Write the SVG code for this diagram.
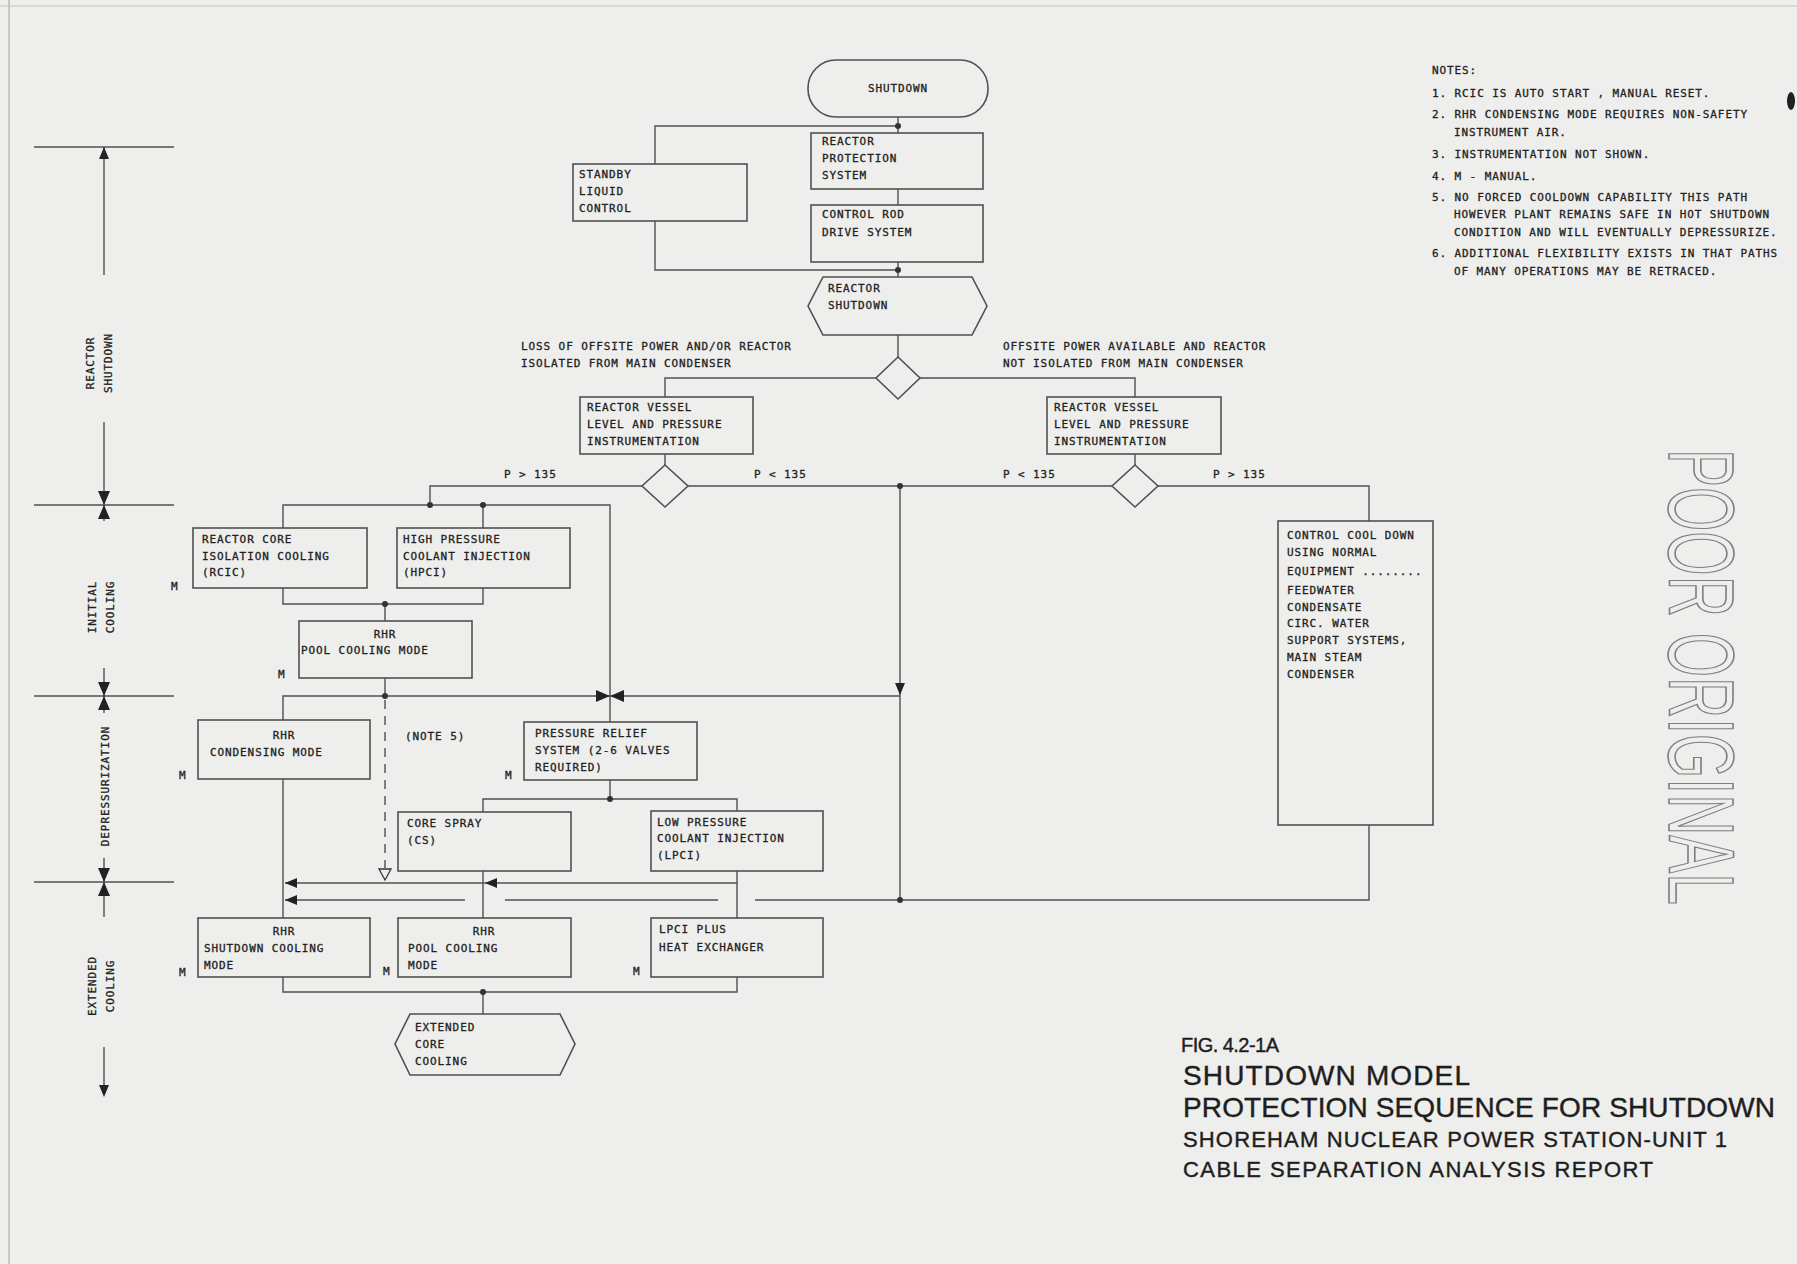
<svg xmlns="http://www.w3.org/2000/svg" width="1797" height="1264" viewBox="0 0 1797 1264">
<style>
.box{fill:none;stroke:#505050;stroke-width:1.6}
.ln{fill:none;stroke:#505050;stroke-width:1.4}
.dash{fill:none;stroke:#505050;stroke-width:1.4;stroke-dasharray:9 7}
.t{font-family:"DejaVu Sans Mono",monospace;font-size:11px;letter-spacing:0.9px;fill:#222;stroke:#222;stroke-width:0.3}
.tm{font-family:"DejaVu Sans Mono",monospace;font-size:11px;letter-spacing:0.9px;fill:#222;stroke:#222;stroke-width:0.3;text-anchor:middle}
.ti{font-family:"Liberation Sans",Arial,sans-serif;fill:#1e1e1e;stroke:#1e1e1e;stroke-width:0.4}
.dot{fill:#333}
.ah{fill:#222}
</style>
<defs>
<path id="ahL" d="M0,0 L12,-5 L12,5 Z"/>
<path id="ahD" d="M0,0 L-5,-12 L5,-12 Z"/>
<path id="ahU" d="M0,0 L-5,12 L5,12 Z"/>
<path id="bowH" d="M-14,-6 L0,0 L-14,6 Z M14,-6 L0,0 L14,6 Z"/>
<path id="bowV" d="M-6,-14 L0,0 L6,-14 Z M-6,14 L0,0 L6,14 Z"/>
</defs>
<rect x="0" y="0" width="1797" height="1264" fill="#eeeeec"/>
<line x1="9" y1="0" x2="9" y2="1264" stroke="#bbb" stroke-width="1.5"/>
<line x1="0" y1="6" x2="1797" y2="6" stroke="#c4c4c4" stroke-width="1.2"/>
<ellipse cx="1791" cy="101" rx="4" ry="9" fill="#222"/>

<!-- section axis -->
<g id="axis">
<g class="ln">
<line x1="34" y1="147" x2="174" y2="147"/>
<line x1="34" y1="505" x2="174" y2="505"/>
<line x1="34" y1="696" x2="174" y2="696"/>
<line x1="34" y1="882" x2="174" y2="882"/>
<line x1="104" y1="147" x2="104" y2="275"/>
<line x1="104" y1="422" x2="104" y2="521"/>
<line x1="104" y1="668" x2="104" y2="713"/>
<line x1="104" y1="858" x2="104" y2="917"/>
<line x1="104" y1="1047" x2="104" y2="1095"/>
</g>
<use href="#ahU" x="104" y="147" class="ah"/>
<use href="#bowV" x="104" y="505" class="ah"/>
<use href="#bowV" x="104" y="696" class="ah"/>
<use href="#bowV" x="104" y="882" class="ah"/>
<use href="#ahD" x="104" y="1097" class="ah"/>
<text class="tm" transform="translate(94,363) rotate(-90)">REACTOR</text>
<text class="tm" transform="translate(112,363) rotate(-90)">SHUTDOWN</text>
<text class="tm" transform="translate(96,607) rotate(-90)">INITIAL</text>
<text class="tm" transform="translate(114,607) rotate(-90)">COOLING</text>
<text class="tm" transform="translate(109,786) rotate(-90)">DEPRESSURIZATION</text>
<text class="tm" transform="translate(96,986) rotate(-90)">EXTENDED</text>
<text class="tm" transform="translate(114,986) rotate(-90)">COOLING</text>
</g>

<!-- connectors -->
<g id="connectors">
<path class="ln" d="M898,117 V133 M898,189 V205 M898,262 V277 M898,335 V357"/>
<path class="ln" d="M655,164 V126 H898 M655,221 V270 H898"/>
<path class="ln" d="M876,378 H665 V397 M920,378 H1135 V397"/>
<path class="ln" d="M665,454 V465 M1135,454 V465"/>
<path class="ln" d="M642,486 H430 V505 M688,486 H1112 M1158,486 H1369 V521"/>
<path class="ln" d="M900,486 V900"/>
<path class="ln" d="M283,528 V505 H610 V722 M483,505 V528"/>
<path class="ln" d="M283,588 V604 H483 V588 M385,604 V621"/>
<path class="ln" d="M385,678 V696"/>
<path class="ln" d="M283,720 V696 H900"/>
<path class="ln" d="M283,779 V918"/>
<path class="ln" d="M610,780 V799 M483,812 V799 H737 V811"/>
<path class="ln" d="M737,871 V918 M483,871 V918"/>
<path class="ln" d="M737,883 H285"/>
<path class="ln" d="M1369,825 V900 H755 M718,900 H505 M465,900 H285"/>
<path class="ln" d="M283,977 V992 H737 V977 M483,992 V1014"/>
<path class="dash" d="M385,700 V868"/>
<polygon points="379,869 391,869 385,880" fill="none" stroke="#333" stroke-width="1.3"/>
<use href="#ahL" x="285" y="883" class="ah"/>
<use href="#ahL" x="485" y="883" class="ah"/>
<use href="#ahL" x="285" y="900" class="ah"/>
<use href="#ahD" x="900" y="695" class="ah"/>
<use href="#bowH" x="610" y="696" class="ah"/>
<circle class="dot" cx="898" cy="126" r="3"/>
<circle class="dot" cx="898" cy="270" r="3"/>
<circle class="dot" cx="430" cy="505" r="3"/>
<circle class="dot" cx="483" cy="505" r="3"/>
<circle class="dot" cx="385" cy="604" r="3"/>
<circle class="dot" cx="385" cy="696" r="3"/>
<circle class="dot" cx="900" cy="486" r="3"/>
<circle class="dot" cx="610" cy="799" r="3"/>
<circle class="dot" cx="900" cy="900" r="3"/>
<circle class="dot" cx="483" cy="992" r="3"/>
<text class="t" x="521" y="350">LOSS OF OFFSITE POWER AND/OR REACTOR</text>
<text class="t" x="521" y="367">ISOLATED FROM MAIN CONDENSER</text>
<text class="t" x="1003" y="350">OFFSITE POWER AVAILABLE AND REACTOR</text>
<text class="t" x="1003" y="367">NOT ISOLATED FROM MAIN CONDENSER</text>
<text class="t" x="504" y="478">P &gt; 135</text>
<text class="t" x="754" y="478">P &lt; 135</text>
<text class="t" x="1003" y="478">P &lt; 135</text>
<text class="t" x="1213" y="478">P &gt; 135</text>
<text class="t" x="405" y="740">(NOTE 5)</text>
</g>

<!-- nodes -->
<g id="n-shutdown">
<rect class="box" x="808" y="60" width="180" height="57" rx="28"/>
<text class="tm" x="898" y="92" letter-spacing="1.8">SHUTDOWN</text>
</g>
<g id="n-rps">
<rect class="box" x="811" y="133" width="172" height="56"/>
<text class="t" x="822" y="145">REACTOR</text>
<text class="t" x="822" y="162">PROTECTION</text>
<text class="t" x="822" y="179">SYSTEM</text>
</g>
<g id="n-slc">
<rect class="box" x="573" y="164" width="174" height="57"/>
<text class="t" x="579" y="178">STANDBY</text>
<text class="t" x="579" y="195">LIQUID</text>
<text class="t" x="579" y="212">CONTROL</text>
</g>
<g id="n-crd">
<rect class="box" x="811" y="205" width="172" height="57"/>
<text class="t" x="822" y="218">CONTROL ROD</text>
<text class="t" x="822" y="236">DRIVE SYSTEM</text>
</g>
<g id="n-reactor-shutdown">
<polygon class="box" points="823,277 972,277 987,306 972,335 823,335 808,306"/>
<text class="t" x="828" y="292">REACTOR</text>
<text class="t" x="828" y="309">SHUTDOWN</text>
</g>
<g id="d-offsite">
<polygon class="box" points="898,357 920,378 898,399 876,378"/>
</g>
<g id="n-rv-left">
<rect class="box" x="580" y="397" width="173" height="57"/>
<text class="t" x="587" y="411">REACTOR VESSEL</text>
<text class="t" x="587" y="428">LEVEL AND PRESSURE</text>
<text class="t" x="587" y="445">INSTRUMENTATION</text>
</g>
<g id="n-rv-right">
<rect class="box" x="1047" y="397" width="174" height="57"/>
<text class="t" x="1054" y="411">REACTOR VESSEL</text>
<text class="t" x="1054" y="428">LEVEL AND PRESSURE</text>
<text class="t" x="1054" y="445">INSTRUMENTATION</text>
</g>
<g id="d-p-left">
<polygon class="box" points="665,465 688,486 665,507 642,486"/>
</g>
<g id="d-p-right">
<polygon class="box" points="1135,465 1158,486 1135,507 1112,486"/>
</g>
<g id="n-rcic">
<rect class="box" x="193" y="528" width="174" height="60"/>
<text class="t" x="202" y="543">REACTOR CORE</text>
<text class="t" x="202" y="560">ISOLATION COOLING</text>
<text class="t" x="202" y="576">(RCIC)</text>
<text class="t" x="171" y="590">M</text>
</g>
<g id="n-hpci">
<rect class="box" x="397" y="528" width="173" height="60"/>
<text class="t" x="403" y="543">HIGH PRESSURE</text>
<text class="t" x="403" y="560">COOLANT INJECTION</text>
<text class="t" x="403" y="576">(HPCI)</text>
</g>
<g id="n-rhr-pool1">
<rect class="box" x="299" y="621" width="173" height="57"/>
<text class="tm" x="385" y="638">RHR</text>
<text class="t" x="301" y="654">POOL COOLING MODE</text>
<text class="t" x="278" y="678">M</text>
</g>
<g id="n-rhr-cond">
<rect class="box" x="198" y="720" width="172" height="59"/>
<text class="tm" x="284" y="739">RHR</text>
<text class="t" x="210" y="756">CONDENSING MODE</text>
<text class="t" x="179" y="779">M</text>
</g>
<g id="n-prs">
<rect class="box" x="524" y="722" width="173" height="58"/>
<text class="t" x="535" y="737">PRESSURE RELIEF</text>
<text class="t" x="535" y="754">SYSTEM (2-6 VALVES</text>
<text class="t" x="535" y="771">REQUIRED)</text>
<text class="t" x="505" y="779">M</text>
</g>
<g id="n-cs">
<rect class="box" x="398" y="812" width="173" height="59"/>
<text class="t" x="407" y="827">CORE SPRAY</text>
<text class="t" x="407" y="844">(CS)</text>
</g>
<g id="n-lpci">
<rect class="box" x="651" y="811" width="172" height="60"/>
<text class="t" x="657" y="826">LOW PRESSURE</text>
<text class="t" x="657" y="842">COOLANT INJECTION</text>
<text class="t" x="657" y="859">(LPCI)</text>
</g>
<g id="n-rhr-sdc">
<rect class="box" x="198" y="918" width="172" height="59"/>
<text class="tm" x="284" y="935">RHR</text>
<text class="t" x="204" y="952">SHUTDOWN COOLING</text>
<text class="t" x="204" y="969">MODE</text>
<text class="t" x="179" y="976">M</text>
</g>
<g id="n-rhr-pool2">
<rect class="box" x="398" y="918" width="173" height="59"/>
<text class="tm" x="484" y="935">RHR</text>
<text class="t" x="408" y="952">POOL COOLING</text>
<text class="t" x="408" y="969">MODE</text>
<text class="t" x="383" y="975">M</text>
</g>
<g id="n-lpci-hx">
<rect class="box" x="651" y="918" width="172" height="59"/>
<text class="t" x="659" y="933">LPCI PLUS</text>
<text class="t" x="659" y="951">HEAT EXCHANGER</text>
<text class="t" x="633" y="975">M</text>
</g>
<g id="n-ext-core">
<polygon class="box" points="410,1014 560,1014 575,1044 560,1075 410,1075 395,1044"/>
<text class="t" x="415" y="1031">EXTENDED</text>
<text class="t" x="415" y="1048">CORE</text>
<text class="t" x="415" y="1065">COOLING</text>
</g>
<g id="n-ccd">
<rect class="box" x="1278" y="521" width="155" height="304"/>
<text class="t" x="1287" y="539">CONTROL COOL DOWN</text>
<text class="t" x="1287" y="556">USING NORMAL</text>
<text class="t" x="1287" y="575">EQUIPMENT ........</text>
<text class="t" x="1287" y="594">FEEDWATER</text>
<text class="t" x="1287" y="611">CONDENSATE</text>
<text class="t" x="1287" y="627">CIRC. WATER</text>
<text class="t" x="1287" y="644">SUPPORT SYSTEMS,</text>
<text class="t" x="1287" y="661">MAIN STEAM</text>
<text class="t" x="1287" y="678">CONDENSER</text>
</g>

<!-- notes -->
<g id="notes">
<text class="t" x="1432" y="74">NOTES:</text>
<text class="t" x="1432" y="97">1. RCIC IS AUTO START , MANUAL RESET.</text>
<text class="t" x="1432" y="118">2. RHR CONDENSING MODE REQUIRES NON-SAFETY</text>
<text class="t" x="1454" y="136">INSTRUMENT AIR.</text>
<text class="t" x="1432" y="158">3. INSTRUMENTATION NOT SHOWN.</text>
<text class="t" x="1432" y="180">4. M - MANUAL.</text>
<text class="t" x="1432" y="201">5. NO FORCED COOLDOWN CAPABILITY THIS PATH</text>
<text class="t" x="1454" y="218">HOWEVER PLANT REMAINS SAFE IN HOT SHUTDOWN</text>
<text class="t" x="1454" y="236">CONDITION AND WILL EVENTUALLY DEPRESSURIZE.</text>
<text class="t" x="1432" y="257">6. ADDITIONAL FLEXIBILITY EXISTS IN THAT PATHS</text>
<text class="t" x="1454" y="275">OF MANY OPERATIONS MAY BE RETRACED.</text>
</g>

<!-- stamp -->
<text transform="translate(1669,449) rotate(90)" font-family="Liberation Sans, Arial, sans-serif" font-size="92" textLength="456" lengthAdjust="spacingAndGlyphs" fill="none" stroke="#7e7e7e" stroke-width="1.6">POOR ORIGINAL</text>

<!-- title -->
<g id="title">
<text class="ti" x="1181" y="1052" font-size="20" textLength="98" lengthAdjust="spacing">FIG. 4.2-1A</text>
<text class="ti" x="1183" y="1085" font-size="28" textLength="287" lengthAdjust="spacing">SHUTDOWN MODEL</text>
<text class="ti" x="1183" y="1117" font-size="28" textLength="592" lengthAdjust="spacing">PROTECTION SEQUENCE FOR SHUTDOWN</text>
<text class="ti" x="1183" y="1147" font-size="22" textLength="544" lengthAdjust="spacing">SHOREHAM NUCLEAR POWER STATION-UNIT 1</text>
<text class="ti" x="1183" y="1177" font-size="22" textLength="470" lengthAdjust="spacing">CABLE SEPARATION ANALYSIS REPORT</text>
</g>
</svg>
